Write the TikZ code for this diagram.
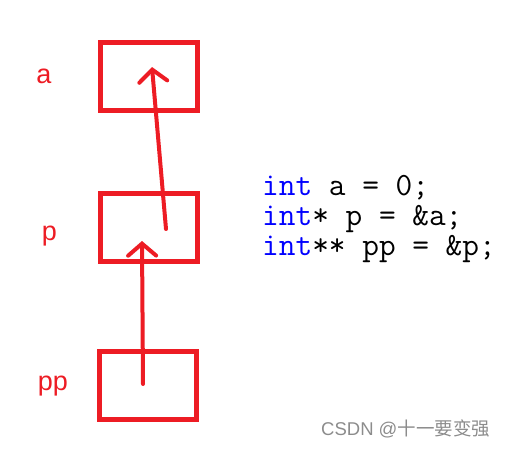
\documentclass[tikz,border=0pt]{standalone}
\usepackage{fontspec}
\setmainfont{Liberation Sans}
\newfontfamily\cjkfont{Noto Sans CJK SC}
\usetikzlibrary{arrows.meta}
\definecolor{myred}{RGB}{237,28,36}
\definecolor{kwblue}{RGB}{0,0,255}
\tikzset{
  membox/.style={draw=myred, line width=5pt, minimum width=97pt, minimum height=68pt, inner sep=0pt},
  varlabel/.style={text=myred, font=\fontsize{27}{30}\selectfont, anchor=base, inner sep=0pt},
  ptrarrow/.style={draw=myred, line width=4pt, line cap=round, -{Straight Barb[length=12pt, width=28pt, line width=4pt, line cap=round]}},
  codeline/.style={font=\ttfamily\fontsize{32.4}{32}\selectfont, anchor=base west, inner sep=0pt},
}
\begin{document}
\begin{tikzpicture}[x=1pt, y=-1pt]
\useasboundingbox (0,0) rectangle (507,448);
\node[membox] (boxa) at (148.5,76) {};
\node[membox] (boxp) at (149,227.5) {};
\node[membox] (boxpp) at (148,385.5) {};
\node[varlabel] (la) at (44,83) {a};
\node[varlabel] (lp) at (49.5,240) {p};
\node[varlabel] (lpp) at (53,390) {pp};
\coordinate (s1) at (143,384);
\coordinate (t1) at (142,241);
\coordinate (s2) at (166,229);
\coordinate (t2) at (152,67);
\draw[ptrarrow] (s1) -- (t1);
\draw[ptrarrow] (s2) -- (t2);
\node[codeline] (c1) at (262,195) {\textcolor{kwblue}{int} a = 0;};
\node[codeline] (c2) at (262,225) {\textcolor{kwblue}{int}* p = \&a;};
\node[codeline] (c3) at (262,255) {\textcolor{kwblue}{int}** pp = \&p;};
\node[anchor=base west, inner sep=0pt, text=black!45, font=\fontsize{18.5}{19}\selectfont] (wm) at (321,435) {CSDN @{\cjkfont 十一要变强}};
\end{tikzpicture}
\end{document}
